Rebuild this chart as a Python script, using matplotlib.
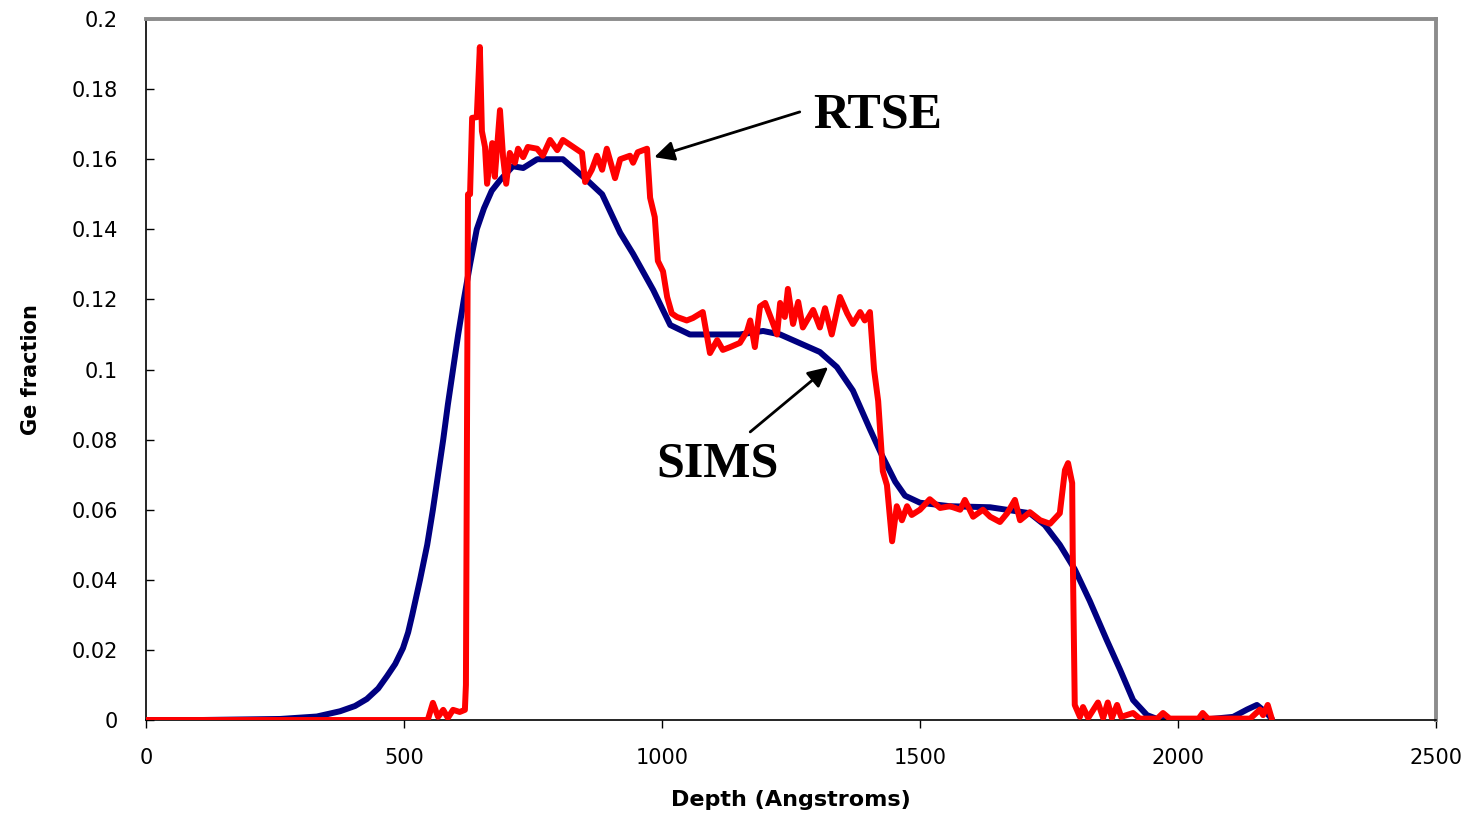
import matplotlib
matplotlib.use("Agg")
import matplotlib.pyplot as plt
from matplotlib.ticker import FuncFormatter, MultipleLocator

# SIMS profile (depth in Angstroms, Ge fraction)
sims_depth = [0, 105, 260, 331, 376, 405, 428, 450, 467, 483, 498, 508, 516, 531, 545,
              556, 566, 576, 585, 595, 605, 616, 628, 641, 655, 670, 686, 711, 731,
              758, 808, 855, 884, 919, 944, 983, 1016, 1054, 1151, 1196, 1229, 1306,
              1339, 1370, 1403, 1426, 1452, 1471, 1500, 1558, 1636, 1713, 1742, 1771,
              1800, 1829, 1862, 1888, 1913, 1940, 1965, 2043, 2107, 2134, 2153, 2172,
              2182]
sims_ge = [0, 0, 0.0003, 0.001, 0.0025, 0.004, 0.006, 0.009, 0.0125, 0.016, 0.0205,
           0.025, 0.030, 0.040, 0.050, 0.060, 0.070, 0.080, 0.090, 0.100, 0.110,
           0.120, 0.130, 0.140, 0.146, 0.151, 0.154, 0.158, 0.1575, 0.160, 0.160,
           0.154, 0.150, 0.139, 0.133, 0.1227, 0.1127, 0.110, 0.110, 0.111, 0.110,
           0.105, 0.1007, 0.094, 0.083, 0.0756, 0.068, 0.064, 0.062, 0.061, 0.0607,
           0.059, 0.0556, 0.050, 0.043, 0.034, 0.0228, 0.0143, 0.0057, 0.0014, 0, 0,
           0.0009, 0.003, 0.0043, 0.002, 0.0003]

# RTSE profile
rtse_depth = [0, 546, 556, 566, 576, 585, 595, 608, 618, 620, 624, 628, 632, 641, 647,
              651, 657, 661, 671, 676, 686, 692, 698, 705, 715, 721, 731, 740, 758,
              769, 783, 797, 808, 828, 845, 851, 864, 874, 884, 893, 909, 919, 938,
              944, 953, 971, 977, 986, 992, 1002, 1010, 1019, 1029, 1048, 1060, 1079,
              1093, 1107, 1118, 1132, 1151, 1165, 1171, 1180, 1190, 1200, 1213, 1223,
              1229, 1238, 1244, 1254, 1264, 1273, 1293, 1306, 1316, 1329, 1345, 1359,
              1370, 1384, 1393, 1403, 1411, 1419, 1428, 1436, 1446, 1455, 1465, 1475,
              1484, 1500, 1519, 1539, 1558, 1578, 1587, 1603, 1622, 1636, 1655, 1669,
              1684, 1694, 1713, 1733, 1752, 1771, 1781, 1787, 1795, 1796, 1800, 1810,
              1816, 1826, 1845, 1855, 1864, 1872, 1882, 1890, 1913, 1926, 1960, 1971,
              1984, 2040, 2048, 2058, 2140, 2159, 2165, 2174, 2182]
rtse_ge = [0, 0, 0.0049, 0.0009, 0.0029, 0.0006, 0.0029, 0.0023, 0.0029, 0.01, 0.150,
           0.150, 0.1718, 0.172, 0.192, 0.168, 0.1635, 0.153, 0.1646, 0.155, 0.174,
           0.1606, 0.153, 0.1618, 0.159, 0.163, 0.1606, 0.1635, 0.163, 0.161, 0.1655,
           0.1626, 0.1655, 0.1635, 0.1618, 0.1535, 0.157, 0.161, 0.157, 0.163, 0.1546,
           0.160, 0.161, 0.159, 0.162, 0.163, 0.149, 0.1435, 0.131, 0.128, 0.1207,
           0.116, 0.115, 0.114, 0.1147, 0.1164, 0.1047, 0.1084, 0.1056, 0.1064, 0.1076,
           0.111, 0.114, 0.1064, 0.118, 0.119, 0.114, 0.110, 0.119, 0.115, 0.123,
           0.113, 0.1193, 0.112, 0.117, 0.112, 0.1175, 0.110, 0.1207, 0.116, 0.113,
           0.1164, 0.114, 0.1164, 0.100, 0.091, 0.071, 0.067, 0.051, 0.061, 0.057,
           0.061, 0.0585, 0.060, 0.063, 0.0605, 0.061, 0.060, 0.0628, 0.058, 0.060,
           0.058, 0.0565, 0.059, 0.0628, 0.057, 0.0593, 0.057, 0.056, 0.059, 0.0713,
           0.0733, 0.0676, 0.0485, 0.0043, 0.0009, 0.0037, 0.0006, 0.005, 0.0006,
           0.005, 0.0006, 0.0043, 0.0009, 0.002, 0.0004, 0.0004, 0.002, 0.0004,
           0.0004, 0.002, 0.0004, 0.0004, 0.003, 0.0014, 0.0043, 0.0003]

x_ticks = [0, 500, 1000, 1500, 2000, 2500]

fig = plt.figure(figsize=(14.72, 8.17), dpi=100)
ax = fig.add_axes([0.0992, 0.1187, 0.8763, 0.858])

ax.plot(sims_depth, sims_ge, color="#000080", lw=4.3, solid_joinstyle="round",
        solid_capstyle="round", zorder=2)
ax.plot(rtse_depth, rtse_ge, color="#ff0000", lw=4.3, solid_joinstyle="round",
        solid_capstyle="round", zorder=3)

ax.set_xlim(0, 2500)
ax.set_ylim(0, 0.2)
ax.set_xticks(x_ticks)
ax.yaxis.set_major_locator(MultipleLocator(0.02))
ax.yaxis.set_major_formatter(FuncFormatter(lambda v, p: "%g" % round(v, 3)))

for s in ("left", "bottom"):
    ax.spines[s].set_color("black")
    ax.spines[s].set_linewidth(1.2)
for s in ("top", "right"):
    ax.spines[s].set_color("#8c8c8c")
    ax.spines[s].set_linewidth(2.8)

ax.tick_params(axis="x", direction="out", length=6, width=1, pad=14,
               labelsize=15)
ax.tick_params(axis="y", direction="in", length=6, width=1, pad=20,
               labelsize=15)
for lab in ax.get_xticklabels() + ax.get_yticklabels():
    lab.set_family("DejaVu Sans")

ax.set_xlabel("Depth (Angstroms)", fontsize=16, fontweight="bold",
              family="DejaVu Sans", labelpad=16)
ax.set_ylabel("Ge fraction", fontsize=15, fontweight="bold",
              family="DejaVu Sans", labelpad=22)

ax.annotate("", xy=(985, 0.1606), xytext=(1267, 0.1735),
            arrowprops=dict(arrowstyle="-|>", color="black", lw=2,
                            mutation_scale=30, shrinkA=0, shrinkB=0))
ax.text(1417, 0.1726, "RTSE", fontsize=36, fontweight="bold",
        family="Liberation Serif", ha="center", va="center")

ax.annotate("", xy=(1322, 0.1007), xytext=(1171, 0.0822),
            arrowprops=dict(arrowstyle="-|>", color="black", lw=2,
                            mutation_scale=30, shrinkA=0, shrinkB=0))
ax.text(1107, 0.0728, "SIMS", fontsize=36, fontweight="bold",
        family="Liberation Serif", ha="center", va="center")

fig.savefig("out.png", dpi=100)
